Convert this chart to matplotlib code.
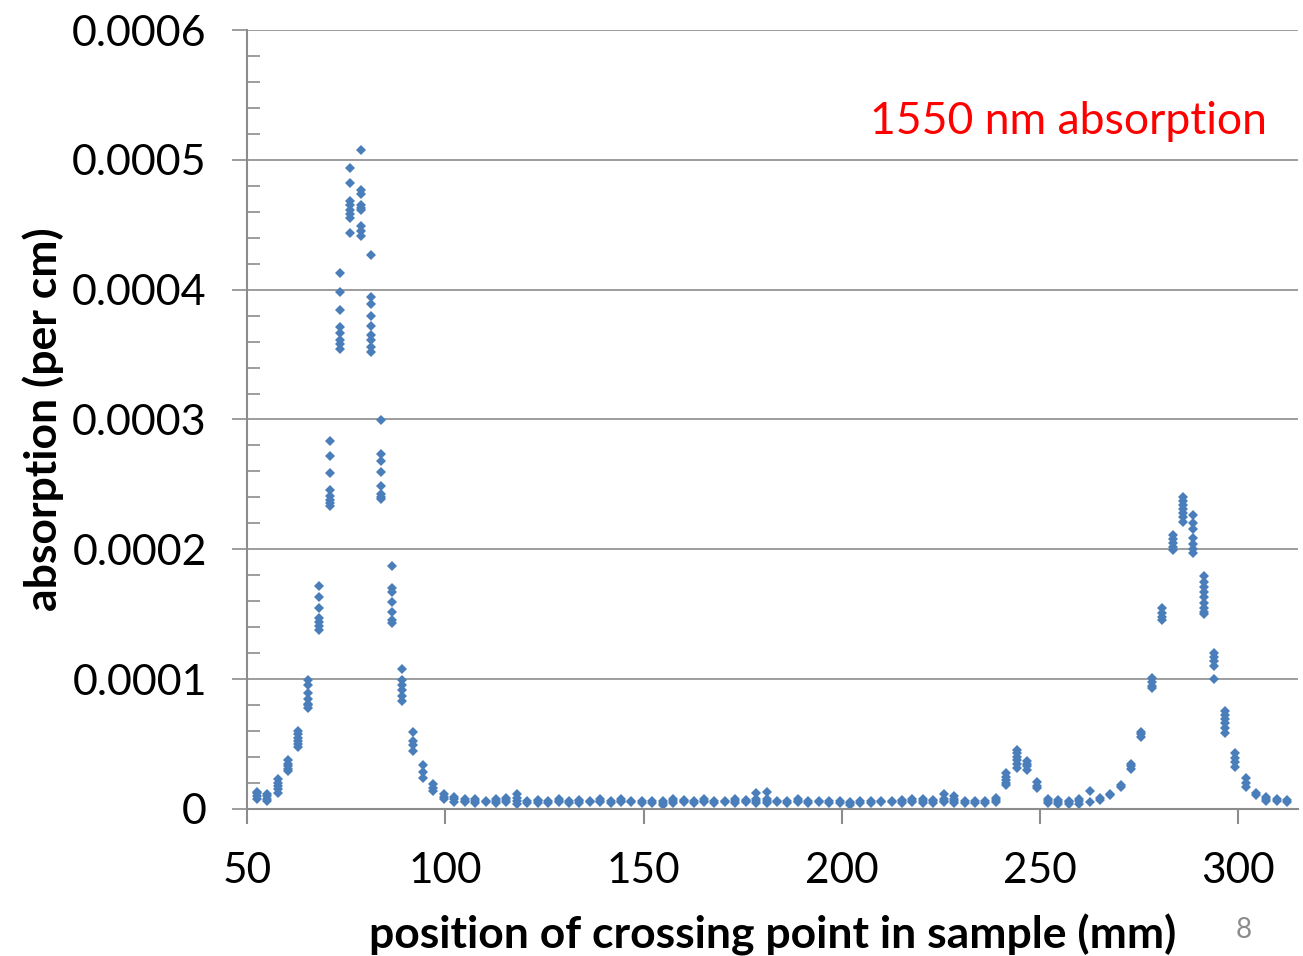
import matplotlib
matplotlib.use("Agg")
import matplotlib.pyplot as plt
from matplotlib.ticker import MultipleLocator, FuncFormatter

plt.rcParams['font.family'] = ['Lato', 'DejaVu Sans']

# scan positions (mm) of the crossing point
positions = [52.4, 55.0, 57.7, 60.3, 62.9, 65.5, 68.2, 70.8, 73.4, 76.0,
             78.7, 81.3, 83.9, 86.5, 89.2, 91.8, 94.4, 97.0, 99.7, 102.3,
             104.9, 107.5, 110.2, 112.8, 115.4, 118.1, 120.7, 123.3, 125.9, 128.6,
             131.2, 133.8, 136.4, 139.1, 141.7, 144.3, 146.9, 149.6, 152.2, 154.8,
             157.4, 160.1, 162.7, 165.3, 167.9, 170.6, 173.2, 175.8, 178.4, 181.1,
             183.7, 186.3, 189.0, 191.6, 194.2, 196.8, 199.5, 202.1, 204.7, 207.3,
             210.0, 212.6, 215.2, 217.8, 220.5, 223.1, 225.7, 228.3, 231.0, 233.6,
             236.2, 238.8, 241.5, 244.1, 246.7, 249.3, 252.0, 254.6, 257.2, 259.9,
             262.5, 265.1, 267.7, 270.4, 273.0, 275.6, 278.2, 280.9, 283.5, 286.1,
             288.7, 291.4, 294.0, 296.6, 299.2, 301.9, 304.5, 307.1, 309.7, 312.4]

# absorption readings at each position, in units of 1e-5 per cm
absorption_e5 = [
    [0.8, 1.0, 1.2, 1.3], [0.6, 0.8, 1.0, 1.15], [1.2, 1.5, 1.8, 2.0, 2.3],
    [2.9, 3.1, 3.3, 3.5, 3.8], [4.75, 5.0, 5.2, 5.5, 5.8, 6.0],
    [7.8, 8.0, 8.1, 8.5, 8.9, 9.55, 9.95],
    [13.8, 14.1, 14.4, 14.7, 15.5, 16.3, 17.2],
    [23.35, 23.6, 23.8, 24.1, 24.6, 25.85, 27.2, 28.35],
    [35.4, 35.8, 36.1, 36.7, 37.1, 38.4, 39.85, 41.3],
    [44.35, 45.5, 45.8, 46.1, 46.5, 46.85, 48.25, 49.4],
    [44.1, 44.5, 44.9, 46.1, 46.3, 46.5, 47.4, 47.7, 50.75],
    [35.2, 35.6, 36.1, 36.5, 37.2, 38.0, 38.9, 39.4, 42.7],
    [23.85, 24.05, 24.25, 24.9, 25.95, 26.8, 27.35, 29.95],
    [14.35, 14.55, 15.15, 15.95, 16.75, 17.0, 18.7],
    [8.3, 8.7, 9.2, 9.55, 9.95, 10.75],
    [4.45, 4.9, 5.25, 5.9], [2.35, 2.85, 3.4], [1.35, 1.6, 1.95],
    [0.75, 0.95, 1.15],
    # flat region
    [0.55, 0.75, 0.9], [0.5, 0.65, 0.8], [0.45, 0.6, 0.75], [0.5, 0.65],
    [0.45, 0.6, 0.75], [0.5, 0.7, 0.85], [0.4, 0.6, 0.85, 1.15], [0.45, 0.6],
    [0.45, 0.6, 0.7], [0.45, 0.6], [0.5, 0.65, 0.75], [0.45, 0.6],
    [0.45, 0.6, 0.7], [0.5, 0.6], [0.5, 0.65, 0.8], [0.45, 0.6],
    [0.5, 0.65, 0.8], [0.5, 0.65], [0.45, 0.6], [0.45, 0.6],
    [0.3, 0.45, 0.6], [0.45, 0.6, 0.75], [0.5, 0.6, 0.7], [0.45, 0.6],
    [0.5, 0.65, 0.75], [0.45, 0.6], [0.5, 0.65], [0.45, 0.6, 0.75],
    [0.5, 0.6, 0.7], [0.45, 0.6, 0.75, 1.2], [0.45, 0.6, 0.8, 1.3], [0.5, 0.65],
    [0.45, 0.6], [0.5, 0.65, 0.75], [0.45, 0.6], [0.5, 0.6],
    [0.45, 0.6], [0.45, 0.6], [0.3, 0.45, 0.55], [0.45, 0.6],
    [0.45, 0.6], [0.5, 0.65], [0.5, 0.65], [0.45, 0.6, 0.7],
    [0.5, 0.65, 0.75], [0.45, 0.6, 0.75], [0.45, 0.6, 0.7],
    [0.5, 0.65, 0.8, 1.15], [0.45, 0.6, 0.8, 1.0], [0.45, 0.6],
    [0.45, 0.6], [0.45, 0.6], [0.55, 0.7, 0.85],
    # second peak
    [1.85, 2.0, 2.2, 2.5, 2.75], [3.15, 3.5, 3.8, 4.0, 4.3, 4.55],
    [3.0, 3.3, 3.5, 3.7], [1.6, 1.8, 2.1], [0.45, 0.6, 0.8],
    [0.4, 0.55, 0.7], [0.4, 0.5, 0.6], [0.4, 0.6, 0.8], [0.55, 1.35],
    [0.7, 0.85], [1.05, 1.15], [1.7, 1.85], [3.1, 3.3, 3.5],
    [5.55, 5.75, 5.95], [9.3, 9.5, 9.75, 10.05], [14.55, 14.8, 15.1, 15.45],
    [19.95, 20.2, 20.5, 20.8, 21.1],
    [22.1, 22.5, 22.8, 23.1, 23.4, 23.7, 24.05],
    [19.7, 20.0, 20.4, 20.85, 21.6, 22.0, 22.65],
    [15.0, 15.2, 15.5, 15.9, 16.3, 16.7, 17.1, 17.5, 17.95],
    [10.0, 11.0, 11.4, 11.7, 12.05], [5.85, 6.2, 6.6, 6.9, 7.2, 7.55],
    [3.25, 3.6, 3.9, 4.3], [1.7, 2.0, 2.35], [1.1, 1.25],
    [0.65, 0.8, 0.95], [0.6, 0.75], [0.55, 0.7],
]

y_ticks = [0, 0.0001, 0.0002, 0.0003, 0.0004, 0.0005, 0.0006]
x_ticks = [50, 100, 150, 200, 250, 300]

xs, ys = [], []
for pos, vals in zip(positions, absorption_e5):
    for v in vals:
        xs.append(pos)
        ys.append(v * 1e-5)

fig = plt.figure(figsize=(13.03, 9.56), dpi=100)
ax = fig.add_axes([0.1896, 0.1538, 0.8066, 0.8148])

grey = '#8c8c8c'
ax.plot(xs, ys, linestyle='none', marker='D', markersize=4.8,
        color='#4a7ebb', markeredgewidth=0)

ax.set_xlim(50, 315.1)
ax.set_ylim(0, 0.0006)
ax.set_xticks(x_ticks)
ax.set_yticks(y_ticks)
ax.yaxis.set_minor_locator(MultipleLocator(0.00002))
ax.yaxis.set_major_formatter(FuncFormatter(lambda v, p: '0' if v == 0 else f'{v:.4f}'))

ax.grid(axis='y', color=grey, linewidth=1.2)
ax.set_axisbelow(True)
for side in ['top', 'right']:
    ax.spines[side].set_visible(False)
for side in ['left', 'bottom']:
    ax.spines[side].set_color(grey)
    ax.spines[side].set_linewidth(1.5)

ax.tick_params(axis='y', which='major', direction='out', length=11, width=1.2,
               color=grey, labelsize=31, pad=18)
ax.tick_params(axis='y', which='minor', direction='in', length=9, width=1.2, color=grey)
ax.tick_params(axis='x', which='major', direction='out', length=11, width=1.5,
               color=grey, labelsize=30.5, pad=20)

ax.set_ylabel('absorption (per cm)', fontsize=32, fontweight='bold', labelpad=6)
fig.text(0.593, 0.022, 'position of crossing point in sample (mm)', fontsize=32,
         fontweight='bold', ha='center', va='center')

ax.text(0.97, 0.882, '1550 nm absorption', transform=ax.transAxes, color='red',
        fontsize=32, ha='right', va='center')
fig.text(0.9547, 0.027, '8', color='#8c8c8c', fontsize=20, ha='center', va='center')

fig.savefig('out.png', dpi=100)
